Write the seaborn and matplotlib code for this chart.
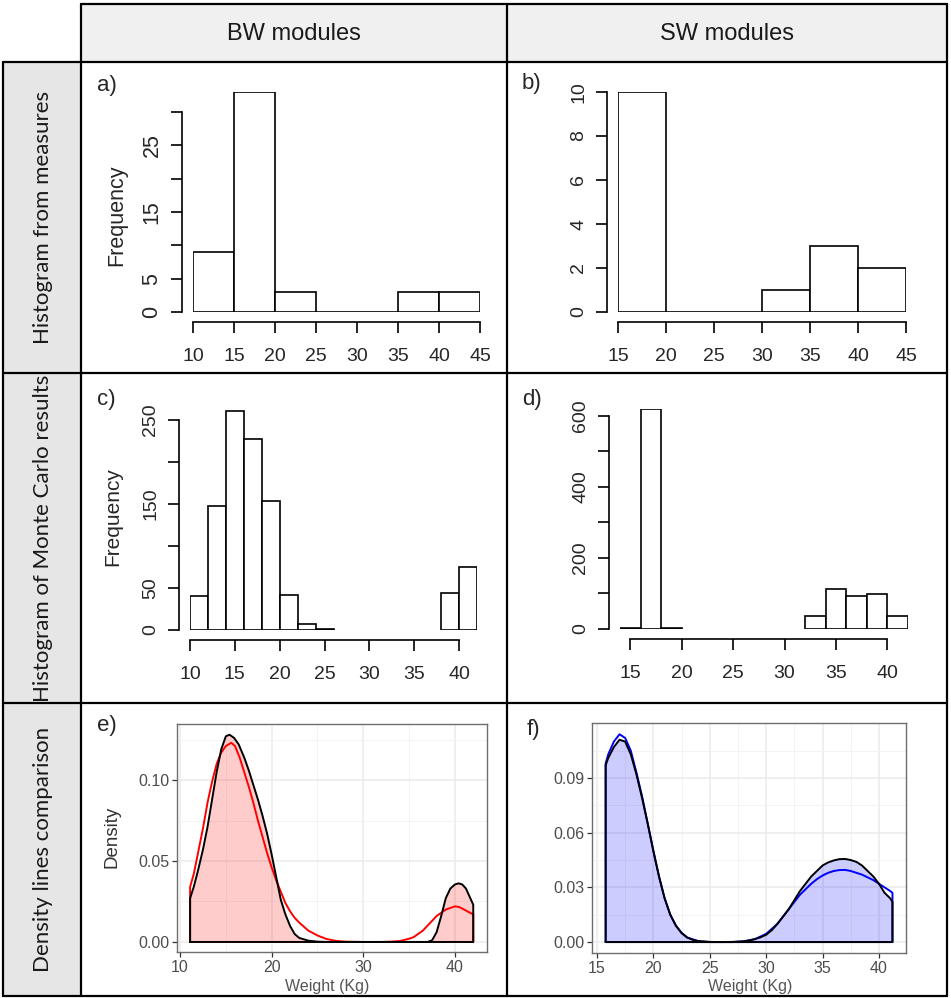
import numpy as np
import pandas as pd
import matplotlib
matplotlib.use("Agg")
import matplotlib.pyplot as plt
import seaborn as sns

## data
# a) BW histogram of measures
bw_meas_edges = [10, 15, 20, 25, 30, 35, 40, 45]
bw_meas_counts = [9, 33, 3, 0, 0, 3, 3]
# b) SW histogram of measures
sw_meas_edges = [15, 20, 25, 30, 35, 40, 45]
sw_meas_counts = [10, 0, 0, 1, 3, 2]
# c) BW Monte Carlo histogram
bw_mc_edges = [10, 12, 14, 16, 18, 20, 22, 24, 26, 28, 30, 32, 34, 36, 38, 40, 42]
bw_mc_counts = [41, 148, 261, 228, 154, 42, 7, 1, 0, 0, 0, 0, 0, 0, 44, 75]
# d) SW Monte Carlo histogram
sw_mc_edges = [14, 16, 18, 20, 22, 24, 26, 28, 30, 32, 34, 36, 38, 40, 42]
sw_mc_counts = [4, 619, 3, 0, 0, 0, 0, 0, 0, 36, 112, 94, 99, 37]

# e) BW density lines (black = measures, red = Monte Carlo)
bw_dens_x = [11.1, 11.5, 12.0, 12.5, 13.0, 13.5, 14.0, 14.5, 15.0, 15.4, 15.9, 16.4,
             17.0, 17.5, 18.0, 18.5, 19.0, 19.5, 20.0, 20.5, 21.0, 21.5, 22.0, 22.5,
             23.0, 24.0, 25.0, 26.0, 37.0, 37.5, 38.0, 38.5, 39.0, 39.5, 40.0, 40.4,
             40.8, 41.2, 41.6, 42.0]
bw_dens_meas = [0.027, 0.034, 0.045, 0.057, 0.071, 0.088, 0.105, 0.119, 0.127, 0.128,
                0.126, 0.122, 0.114, 0.106, 0.097, 0.088, 0.078, 0.067, 0.054, 0.040,
                0.026, 0.017, 0.010, 0.005, 0.0025, 0.0008, 0.0002, 0.0, 0.0, 0.001,
                0.006, 0.016, 0.027, 0.033, 0.0355, 0.0362, 0.0355, 0.033, 0.028, 0.023]
bw_mc_x = [11.1, 11.5, 12.0, 12.5, 13.0, 13.5, 14.0, 14.5, 15.0, 15.6, 16.0, 16.5,
           17.0, 17.5, 18.0, 18.5, 19.0, 19.5, 20.0, 20.5, 21.0, 21.5, 22.0, 22.5,
           23.0, 24.0, 25.0, 26.0, 27.0, 28.0, 30.0, 32.0, 33.0, 34.0, 35.0, 35.5,
           36.0, 36.5, 37.0, 37.5, 38.0, 38.5, 39.0, 39.5, 40.0, 40.5, 41.0, 41.5, 42.0]
bw_dens_mc = [0.034, 0.042, 0.056, 0.070, 0.086, 0.099, 0.110, 0.117, 0.121, 0.123,
              0.121, 0.114, 0.105, 0.096, 0.086, 0.075, 0.065, 0.055, 0.046, 0.038,
              0.031, 0.024, 0.019, 0.015, 0.012, 0.007, 0.004, 0.0018, 0.0007, 0.0002,
              0.0, 0.0, 0.0002, 0.0006, 0.002, 0.003, 0.005, 0.007, 0.010, 0.013,
              0.016, 0.018, 0.020, 0.021, 0.022, 0.0215, 0.020, 0.0185, 0.017]

# f) SW density lines (black = measures, blue = Monte Carlo)
sw_dens_x = [15.77, 16.0, 16.5, 17.0, 17.5, 18.0, 18.5, 19.0, 19.5, 20.0, 20.5, 21.0,
             21.5, 22.0, 22.5, 23.0, 23.5, 24.0, 25.0, 26.0, 27.0, 28.0, 28.5, 29.0,
             29.5, 30.0, 30.5, 31.0, 31.5, 32.0, 32.5, 33.0, 33.5, 34.0, 34.5, 35.0,
             35.5, 36.0, 36.5, 37.0, 37.5, 38.0, 38.5, 39.0, 39.5, 40.0, 40.5, 41.0, 41.2]
sw_dens_meas = [0.097, 0.101, 0.107, 0.111, 0.110, 0.103, 0.092, 0.079, 0.065, 0.050,
                0.036, 0.024, 0.015, 0.009, 0.005, 0.0025, 0.0012, 0.0005, 0.0001, 0.0,
                0.0001, 0.0004, 0.0009, 0.0016, 0.0026, 0.004, 0.0065, 0.010, 0.014,
                0.018, 0.023, 0.028, 0.032, 0.036, 0.039, 0.042, 0.0437, 0.0448, 0.0455,
                0.0456, 0.045, 0.044, 0.042, 0.039, 0.036, 0.032, 0.027, 0.024, 0.022]
sw_mc_x = [15.77, 16.0, 16.5, 17.0, 17.5, 18.0, 18.5, 19.0, 19.5, 20.0, 20.5, 21.0,
           21.5, 22.0, 22.5, 23.0, 24.0, 25.0, 27.0, 28.0, 29.0, 30.0, 31.0, 32.0,
           33.0, 33.5, 34.0, 34.5, 35.0, 35.5, 36.0, 36.5, 37.0, 37.5, 38.0, 38.5,
           39.0, 39.5, 40.0, 40.5, 41.0, 41.2]
sw_dens_mc = [0.098, 0.103, 0.110, 0.114, 0.112, 0.105, 0.093, 0.080, 0.065, 0.050,
              0.036, 0.024, 0.015, 0.009, 0.005, 0.0025, 0.0005, 0.0, 0.0, 0.0004,
              0.0016, 0.0045, 0.010, 0.018, 0.026, 0.029, 0.032, 0.0345, 0.0365, 0.038,
              0.039, 0.0395, 0.0396, 0.039, 0.038, 0.037, 0.0355, 0.034, 0.032, 0.030,
              0.028, 0.027]

col_titles = ["BW modules", "SW modules"]
row_titles = ["Histogram from measures", "Histogram of Monte Carlo results",
              "Density lines comparison"]
panel_tags = ["a)", "b)", "c)", "d)", "e)", "f)"]

## set theme
sns.set_theme(style="white")
plt.rcParams["font.family"] = ["Liberation Sans", "DejaVu Sans"]

W, H = 951, 998
fig = plt.figure(figsize=(W / 100, H / 100), dpi=100)

# background axes in pixel coordinates for the table frame
bg = fig.add_axes([0, 0, 1, 1])
bg.set_xlim(0, W)
bg.set_ylim(H, 0)
bg.axis("off")

col_x = [81, 507, 947]
row_y = [62, 373, 703, 996]
bg.add_patch(plt.Rectangle((81, 4), 947 - 81, 62 - 4, facecolor="#F0F0F0",
                           edgecolor="none"))
bg.add_patch(plt.Rectangle((3, 62), 81 - 3, 996 - 62, facecolor="#E6E6E6",
                           edgecolor="none"))
lw_tab = 1.6
bg.plot([81, 947], [4, 4], color="black", lw=lw_tab)
for y in row_y:
    bg.plot([3, 947], [y, y], color="black", lw=lw_tab)
bg.plot([3, 3], [62, 996], color="black", lw=lw_tab)
for x in col_x:
    bg.plot([x, x], [4, 996], color="black", lw=lw_tab)

for title, (x0, x1) in zip(col_titles, zip(col_x[:-1], col_x[1:])):
    bg.text((x0 + x1) / 2, 34, title, ha="center", va="center", fontsize=17,
            color="#1A1A1A")
for title, (y0, y1) in zip(row_titles, zip(row_y[:-1], row_y[1:])):
    bg.text(43, (y0 + y1) / 2, title, ha="center", va="center", rotation=90,
            fontsize=16, family=["Lato", "DejaVu Sans"], color="#1A1A1A")

tag_pos = [(97, 85), (522, 83), (97, 400), (522, 400), (97, 725), (527, 730)]
for tag, (x, y) in zip(panel_tags, tag_pos):
    bg.text(x, y, tag, ha="left", va="center", fontsize=16)


def add_ax(left, top, right, bottom):
    return fig.add_axes([left / W, 1 - bottom / H, (right - left) / W,
                         (bottom - top) / H])


def r_hist(ax, edges, counts, xticks, yticks, ylabels, hide_zero=False,
           ysize=15, xsize=14):
    sns.histplot(x=edges[:-1], weights=counts, bins=edges, ax=ax,
                 color="white", edgecolor="black", linewidth=1.2, alpha=1)
    if hide_zero:
        for p in ax.patches:
            if p.get_height() == 0:
                p.set_visible(False)
    ax.set(xlabel="", ylabel="")
    ax.set_facecolor("none")
    for s in ["top", "right"]:
        ax.spines[s].set_visible(False)
    ax.spines["left"].set_position(("outward", 8))
    ax.spines["bottom"].set_position(("outward", 7))
    ax.spines["left"].set_bounds(yticks[0], yticks[-1])
    ax.spines["bottom"].set_bounds(xticks[0], xticks[-1])
    for s in ["left", "bottom"]:
        ax.spines[s].set_linewidth(1.2)
        ax.spines[s].set_color("black")
    ax.set_xticks(xticks)
    ax.set_xticklabels([str(t) for t in xticks])
    ax.set_yticks(yticks)
    ax.set_yticklabels(ylabels, rotation=90, va="center")
    ax.tick_params(axis="both", direction="out", length=8, width=1.2,
                   color="black", left=True, bottom=True)
    ax.tick_params(axis="y", labelsize=ysize, pad=6)
    ax.tick_params(axis="x", labelsize=xsize, pad=11)


# a)
ax_a = add_ax(193, 92, 480, 312)
r_hist(ax_a, bw_meas_edges, bw_meas_counts, [10, 15, 20, 25, 30, 35, 40, 45],
       [0, 5, 10, 15, 20, 25, 30], ["0", "5", "", "15", "", "25", ""], ysize=15.5)
ax_a.set_xlim(10, 45)
ax_a.set_ylim(0, 33)
bg.text(117, 215, "Frequency", rotation=90, ha="center", va="center", fontsize=15.5)

# b)
ax_b = add_ax(618, 92, 906, 312)
r_hist(ax_b, sw_meas_edges, sw_meas_counts, [15, 20, 25, 30, 35, 40, 45],
       [0, 2, 4, 6, 8, 10], ["0", "2", "4", "6", "8", "10"], ysize=14)
ax_b.set_xlim(15, 45)
ax_b.set_ylim(0, 10)

# c)
ax_c = add_ax(190, 410, 477, 630)
r_hist(ax_c, bw_mc_edges, bw_mc_counts, [10, 15, 20, 25, 30, 35, 40],
       [0, 50, 100, 150, 200, 250], ["0", "50", "", "150", "", "250"],
       hide_zero=True, ysize=14)
ax_c.set_xlim(10, 42)
ax_c.set_ylim(0, 262)
bg.text(113, 517, "Frequency", rotation=90, ha="center", va="center", fontsize=15)

# d)
ax_d = add_ax(620, 409, 908, 629)
r_hist(ax_d, sw_mc_edges, sw_mc_counts, [15, 20, 25, 30, 35, 40],
       [0, 100, 200, 300, 400, 500, 600], ["0", "", "200", "", "400", "", "600"],
       hide_zero=True, ysize=14)
ax_d.set_xlim(14, 42)
ax_d.set_ylim(0, 619)


def gg_density(ax, x_meas, y_meas, x_mc, y_mc, line_color, fill_color,
               xlim, ylim, xmaj, xmin, ymaj, ymin, ylabels):
    ax.set_facecolor("white")
    ax.fill_between(x_meas, y_meas, color=fill_color, alpha=0.2, lw=0, zorder=2)
    # closed outlines like geom_density
    xm = [x_mc[0]] + list(x_mc) + [x_mc[-1], x_mc[0]]
    ym = [0] + list(y_mc) + [0, 0]
    sns.lineplot(x=xm, y=ym, sort=False, estimator=None, color=line_color,
                 lw=1.4, ax=ax, zorder=3)
    xb = [x_meas[0]] + list(x_meas) + [x_meas[-1], x_meas[0]]
    yb = [0] + list(y_meas) + [0, 0]
    sns.lineplot(x=xb, y=yb, sort=False, estimator=None, color="black",
                 lw=1.4, ax=ax, zorder=4)
    ax.set(xlabel="", ylabel="")
    ax.set_xlim(*xlim)
    ax.set_ylim(*ylim)
    ax.set_xticks(xmaj)
    ax.set_xticks(xmin, minor=True)
    ax.set_yticks(ymaj)
    ax.set_yticks(ymin, minor=True)
    ax.set_yticklabels(ylabels)
    ax.grid(which="major", color="#EBEBEB", lw=1.1, zorder=0)
    ax.grid(which="minor", color="#F3F3F3", lw=0.7, zorder=0)
    ax.set_axisbelow(True)
    for s in ax.spines.values():
        s.set_visible(True)
        s.set_color("#6E6E6E")
        s.set_linewidth(1.0)
    ax.tick_params(which="major", direction="out", length=3.5, width=0.9,
                   color="#333333", labelcolor="#4D4D4D", labelsize=11.5,
                   left=True, bottom=True, pad=2)
    ax.tick_params(which="minor", length=0)


# e)
ax_e = add_ax(177, 724, 487, 952)
gg_density(ax_e, bw_dens_x, bw_dens_meas, bw_mc_x, bw_dens_mc, "#FF0000", "red",
           (9.67, 43.5), (-0.0062, 0.1346), [10, 20, 30, 40], [15, 25, 35],
           [0.0, 0.05, 0.10], [0.025, 0.075, 0.125], ["0.00", "0.05", "0.10"])
bg.text(112, 837, "Density", rotation=90, ha="center", va="center", fontsize=13.5,
        color="#333333")
bg.text(327, 987, "Weight (Kg)", ha="center", va="center", fontsize=11.5,
        color="#555555")

# f)
ax_f = add_ax(592, 723, 906, 953)
gg_density(ax_f, sw_dens_x, sw_dens_meas, sw_mc_x, sw_dens_mc, "#0000FF", "blue",
           (14.56, 42.4), (-0.006, 0.1202), [15, 20, 25, 30, 35, 40],
           [17.5, 22.5, 27.5, 32.5, 37.5], [0.0, 0.03, 0.06, 0.09],
           [0.015, 0.045, 0.075, 0.105], ["0.00", "0.03", "0.06", "0.09"])
bg.text(750, 987, "Weight (Kg)", ha="center", va="center", fontsize=11.5,
        color="#555555")

fig.savefig("out.png", dpi=100)
plt.close(fig)
